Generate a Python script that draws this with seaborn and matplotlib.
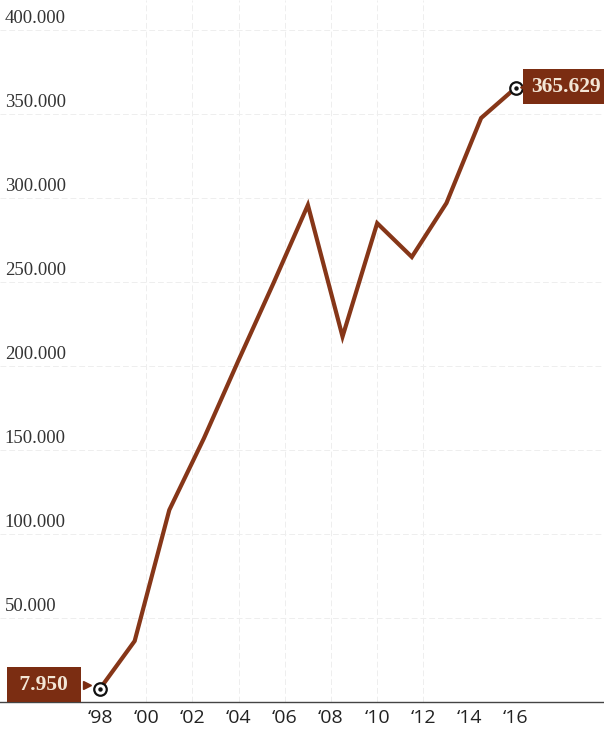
import matplotlib
matplotlib.use("Agg")
import matplotlib.pyplot as plt
import matplotlib.transforms as mtransforms
import pandas as pd
import seaborn as sns

# data (points every 1.5 years)
years = [1998, 1999.5, 2001, 2002.5, 2004, 2005.5, 2007, 2008.5, 2010, 2011.5, 2013, 2014.5, 2016]
values = [7950, 36300, 114300, 157000, 203500, 249000, 295800, 217500, 285000, 264900, 297000, 347600, 365629]
xticks = [1998, 2000, 2002, 2004, 2006, 2008, 2010, 2012, 2014, 2016]
xtick_labels = ["\u201898", "\u201800", "\u201802", "\u201804", "\u201806", "\u201808",
                "\u201810", "\u201812", "\u201814", "\u201816"]
yticks = [50000, 100000, 150000, 200000, 250000, 300000, 350000, 400000]
ytick_labels = ["50.000", "100.000", "150.000", "200.000", "250.000", "300.000", "350.000", "400.000"]
first_label = "7.950"
last_label = "365.629"

line_color = "#863618"
box_color = "#7b2d12"

sns.set_theme(style="white")
df = pd.DataFrame({"year": years, "value": values})

fig = plt.figure(figsize=(6.04, 7.30), dpi=100)
ax = fig.add_axes([0, 28 / 730, 1, 702 / 730])

# faint grid
for yt in yticks:
    ax.axhline(yt, color="#eeeeee", lw=0.7, ls=(0, (6, 3)), zorder=0)
for xt in xticks[1:-2]:
    ax.axvline(xt, color="#eeeeee", lw=0.7, ls=(0, (6, 3)), zorder=0)

sns.lineplot(data=df, x="year", y="value", ax=ax, color=line_color, lw=3,
             solid_joinstyle="miter", zorder=3)

ax.set_xlim(1993.67, 2019.82)
ax.set_ylim(0, 417857)

# endpoint markers
ends = df.iloc[[0, -1]]
ax.plot(ends["year"], ends["value"], "o", ms=9, mfc="white", mec="#111111", mew=1.6, zorder=5)
ax.plot(ends["year"], ends["value"], "o", ms=2.2, color="#111111", zorder=6)

# y tick labels sitting above the gridlines, at the left edge
ytrans = mtransforms.blended_transform_factory(ax.transAxes, ax.transData)
for yt, lab in zip(yticks, ytick_labels):
    ax.annotate(lab, xy=(0.008, yt), xycoords=ytrans, xytext=(0, 3),
                textcoords="offset pixels", ha="left", va="bottom",
                fontsize=13.5, family="Liberation Serif", color="#333333")
ax.set_yticks([])

ax.set_xticks(xticks)
ax.set_xticklabels(xtick_labels, fontsize=14, family="Open Sans", color="#222222")
ax.tick_params(axis="x", length=0, pad=5)

for side in ["top", "right", "left"]:
    ax.spines[side].set_visible(False)
ax.spines["bottom"].set_color("#444444")
ax.spines["bottom"].set_linewidth(1.0)

# value boxes at the ends
box = dict(boxstyle="square,pad=0.35", fc=box_color, ec="none")
x0, y0 = years[0], values[0]
x1, y1 = years[-1], values[-1]
ax.annotate(" " + first_label + " ", xy=(x0, y0), xytext=(-56, 4), textcoords="offset pixels",
            ha="center", va="center", fontsize=15.5, fontweight="bold",
            family="Liberation Serif", color="#f3e6d6", bbox=box, zorder=7,
            annotation_clip=False)
ax.annotate(last_label, xy=(x1, y1), xytext=(15, 1), textcoords="offset pixels",
            ha="left", va="center", fontsize=15.5, fontweight="bold",
            family="Liberation Serif", color="#f3e6d6", bbox=box, zorder=7,
            annotation_clip=False)
# small pointers
tr_left = mtransforms.offset_copy(ax.transData, fig=fig, x=-13, y=4, units="dots")
ax.plot([x0], [y0], marker=">", ms=6, color=box_color, transform=tr_left,
        zorder=7, clip_on=False)
tr_right = mtransforms.offset_copy(ax.transData, fig=fig, x=8, y=1, units="dots")
ax.plot([x1], [y1], marker="<", ms=6, color=box_color, transform=tr_right,
        zorder=7, clip_on=False)

ax.set_xlabel("")
ax.set_ylabel("")
fig.savefig("out.png", dpi=100)
